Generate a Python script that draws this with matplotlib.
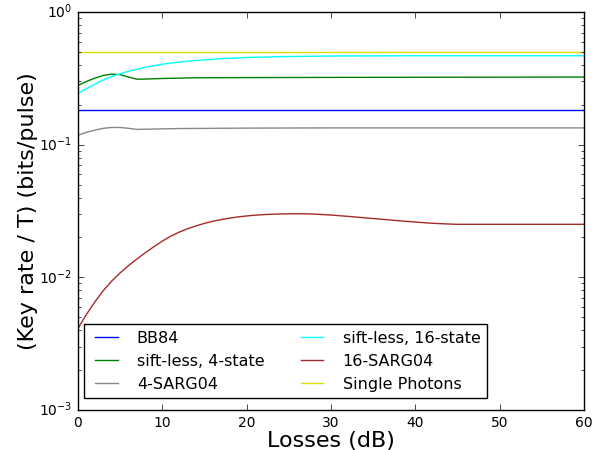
import numpy as np
import matplotlib
matplotlib.use("Agg")
from matplotlib import pyplot as plt

plt.style.use('classic')

# losses (dB) and key rates read per protocol
loss_max = 60

bb84_rate = 0.184
single_photon_rate = 0.5

sift4_loss = [0, 1, 2, 3, 4, 5, 6, 7, 8, 10, 14, 20, 30, 45, 60]
sift4_rate = [0.280, 0.300, 0.318, 0.333, 0.341, 0.338, 0.324, 0.312, 0.313, 0.316, 0.320, 0.321, 0.322, 0.323, 0.324]

sift16_loss = [0, 1, 2, 3, 4, 5, 6, 8, 10, 12, 14, 17, 20, 24, 30, 40, 60]
sift16_rate = [0.244, 0.265, 0.287, 0.308, 0.327, 0.343, 0.358, 0.384, 0.405, 0.420, 0.432, 0.446, 0.455, 0.462, 0.467, 0.469, 0.469]

sarg4_loss = [0, 1, 2, 3, 4, 5, 6, 7, 8, 12, 20, 30, 60]
sarg4_rate = [0.118, 0.124, 0.129, 0.133, 0.135, 0.135, 0.133, 0.1305, 0.131, 0.1325, 0.1335, 0.134, 0.134]

sarg16_loss = [0, 1, 2, 3, 4, 5, 6, 7, 8, 9, 10, 11, 12, 13, 14, 15, 16, 17, 18, 19, 20,
               21, 22, 23, 24, 25, 26, 27, 28, 30, 32, 34, 36, 38, 40, 42, 44, 45, 60]
sarg16_rate = [0.00412, 0.00525, 0.00653, 0.00794, 0.00938, 0.01081, 0.01227, 0.01377, 0.01535,
               0.01702, 0.01875, 0.02042, 0.02193, 0.02328, 0.02443, 0.02553, 0.02649, 0.02729,
               0.02799, 0.02858, 0.02904, 0.02944, 0.02972, 0.02992, 0.03006, 0.03013, 0.03017,
               0.03013, 0.02999, 0.02951, 0.02884, 0.02812, 0.02742, 0.02673, 0.02612, 0.02559,
               0.02524, 0.02512, 0.02512]

fig = plt.figure(figsize=(6.14, 4.5), dpi=100, facecolor='white')
ax = fig.add_axes([0.127, 0.089, 0.824, 0.884])

ax.plot([0, loss_max], [bb84_rate, bb84_rate], color='#0000ff', lw=1.0, label='BB84')
ax.plot(sift4_loss, sift4_rate, color='#008000', lw=1.0, label='sift-less, 4-state')
ax.plot(sarg4_loss, sarg4_rate, color='#888888', lw=1.0, label='4-SARG04')
ax.plot(sift16_loss, sift16_rate, color='#00ffff', lw=1.0, label='sift-less, 16-state')
ax.plot(sarg16_loss, sarg16_rate, color='#a52a2a', lw=1.0, label='16-SARG04')
ax.plot([0, loss_max], [single_photon_rate, single_photon_rate], color='#dddd00', lw=1.0, label='Single Photons')

ax.set_yscale('log')
ax.set_xlim(0, loss_max)
ax.set_ylim(1e-3, 1)
ax.set_xlabel('Losses (dB)', fontsize=16, labelpad=1)
ax.set_ylabel('(Key rate / T) (bits/pulse)', fontsize=16, labelpad=1)
ax.tick_params(labelsize=10)

ax.legend(loc='lower left', bbox_to_anchor=(0.012, 0.030), borderaxespad=0,
          ncol=2, fontsize=11.5, frameon=True, handlelength=2.0, handletextpad=0.9,
          columnspacing=2.0)

fig.savefig('out.png', dpi=100, facecolor='white')
